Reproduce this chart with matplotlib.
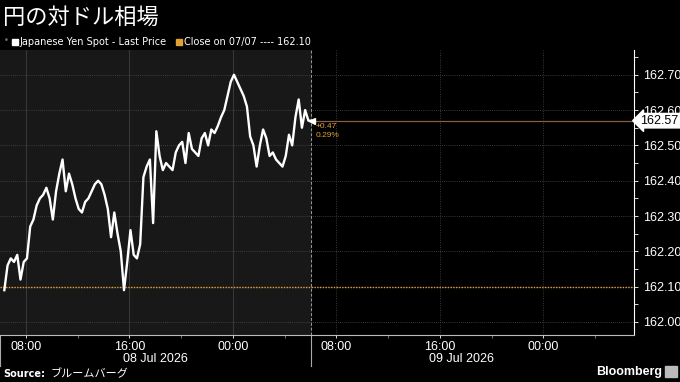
import pandas as pd
import matplotlib
matplotlib.use("Agg")
import matplotlib.pyplot as plt
import matplotlib.dates as mdates
import matplotlib.transforms as mtransforms
from matplotlib.patches import Rectangle

# chart texts and reference values
title = "円の対ドル相場"
series_name = "Japanese Yen Spot - Last Price"
close_label = "Close on 07/07 ---- 162.10"
prev_close = 162.10
last_price = 162.57
change_txt = "+0.47"
change_pct = "0.29%"
y_ticks = [162.00, 162.10, 162.20, 162.30, 162.40, 162.50, 162.60, 162.70]
day_labels = ["08 Jul 2026", "09 Jul 2026"]

# yen spot, 15 minute steps
price = [162.09, 162.16, 162.18, 162.17, 162.19, 162.12, 162.17, 162.18, 162.27, 162.29,
         162.33, 162.35, 162.36, 162.38, 162.35, 162.29, 162.37, 162.42, 162.46, 162.37,
         162.42, 162.39, 162.35, 162.32, 162.31, 162.34, 162.35, 162.37, 162.39, 162.40,
         162.39, 162.36, 162.32, 162.24, 162.31, 162.25, 162.20, 162.09, 162.17, 162.26,
         162.19, 162.18, 162.22, 162.41, 162.44, 162.46, 162.28, 162.54, 162.47, 162.43,
         162.45, 162.44, 162.43, 162.48, 162.50, 162.51, 162.45, 162.535, 162.49, 162.48,
         162.47, 162.52, 162.535, 162.50, 162.545, 162.535, 162.555, 162.58, 162.60, 162.64,
         162.68, 162.70, 162.68, 162.66, 162.64, 162.61, 162.525, 162.50, 162.44, 162.50,
         162.545, 162.52, 162.47, 162.48, 162.46, 162.45, 162.44, 162.47, 162.53, 162.50,
         162.58, 162.63, 162.55, 162.60, 162.57, 162.57]
times = pd.date_range("2026-07-08 06:20", periods=len(price), freq="15min")

x_start = pd.Timestamp("2026-07-08 06:00")
session_end = pd.Timestamp("2026-07-09 06:00")
x_end = pd.Timestamp("2026-07-10 07:00")
day_centers = [pd.Timestamp("2026-07-08 18:00"), pd.Timestamp("2026-07-09 17:40")]

orange = "#e3a033"
fig = plt.figure(figsize=(6.8, 3.82), dpi=100, facecolor="black")
ax = fig.add_axes([0.0, 0.123, 0.9324, 0.746])
ax.set_facecolor("black")

ax.axvspan(x_start, session_end, color="#181818", zorder=0)
for y in y_ticks:
    ax.axhline(y, color="#4a4a4a", lw=0.6, ls=(0, (1, 1.5)), zorder=1)
for t in pd.date_range("2026-07-08 08:00", x_end, freq="8h"):
    ax.axvline(t, color="#3a3a3a", lw=0.7, zorder=1,
               ls="-" if t < session_end else (0, (1, 1.5)))
ax.axvline(session_end, color="#9a9a9a", lw=0.7, ls=(0, (3, 2)), zorder=2)

ax.axhline(prev_close, color=orange, lw=1.0, ls=(0, (1, 1)), zorder=3)
ax.plot([times[-1], x_end], [last_price, last_price], color="#8a5f45", lw=0.9, zorder=3)
ax.plot(times, price, color="white", lw=1.7, zorder=4)
ax.plot(times[-1], price[-1], marker="<", color="white", ms=4, zorder=5)

ax.annotate(change_txt, (times[-1], last_price), xytext=(3, -4), textcoords="offset points",
            color=orange, fontsize=6, va="center", fontfamily="Liberation Sans")
ax.annotate(change_pct, (times[-1], last_price), xytext=(3, -10.5), textcoords="offset points",
            color=orange, fontsize=6, va="center", fontfamily="Liberation Sans")

ax.set_xlim(x_start, x_end)
ax.set_ylim(161.963, 162.770)
ax.yaxis.tick_right()
ax.set_yticks(y_ticks)
ax.set_yticks([v + 0.05 for v in y_ticks], minor=True)
ax.yaxis.set_major_formatter(plt.FuncFormatter(lambda v, p: f"{v:.2f}"))
ax.xaxis.set_major_locator(mdates.HourLocator(byhour=[0, 8, 16]))
ax.xaxis.set_minor_locator(mdates.HourLocator(byhour=[4, 12, 20]))
ax.xaxis.set_major_formatter(mdates.DateFormatter("%H:%M"))
ax.tick_params(axis="both", which="both", colors="white", labelsize=9, length=3, width=0.6)
ax.tick_params(axis="x", which="major", length=2, pad=2)
ax.tick_params(axis="x", which="minor", length=2, color="#888888")
for lab in ax.get_xticklabels() + ax.get_yticklabels():
    lab.set_fontfamily("Liberation Sans")
for s in ["top", "left"]:
    ax.spines[s].set_visible(False)
ax.spines["right"].set_color("white")
ax.spines["bottom"].set_color("#bbbbbb")
ax.spines["right"].set_linewidth(0.8)
ax.spines["bottom"].set_linewidth(0.8)

# last price tag on the axis
ax.annotate(f"{last_price:.2f}", (1.0, last_price), xycoords=("axes fraction", "data"),
            xytext=(4.5, 0), textcoords="offset points", va="center", ha="left",
            fontsize=9, color="black", fontfamily="Liberation Sans", zorder=6,
            bbox=dict(boxstyle="larrow,pad=0.1", fc="white", ec="white"))

# day labels and separators under the time axis
trans = mtransforms.blended_transform_factory(ax.transData, ax.transAxes)
for t, lab in zip(day_centers, day_labels):
    ax.text(t, -0.085, lab, transform=trans, ha="center", va="center", color="white",
            fontsize=9, fontfamily="Liberation Sans")
for t in [x_start, session_end]:
    ax.plot([t, t], [0, -0.11], transform=trans, color="#aaaaaa", lw=0.8, clip_on=False)

# title, legend, footer
fig.text(0.005, 0.955, title, color="white", fontsize=16, va="center", ha="left",
         fontfamily=["Noto Sans CJK JP", "DejaVu Sans"])
fig.text(0.005, 0.893, "\u2022", color="#777777", fontsize=6, va="center")
fig.patches.append(Rectangle((0.017, 0.882), 0.009, 0.016, transform=fig.transFigure,
                             color="white"))
fig.text(0.029, 0.89, series_name, color="white", fontsize=7, va="center",
         fontfamily="DejaVu Sans")
fig.patches.append(Rectangle((0.259, 0.882), 0.009, 0.016, transform=fig.transFigure,
                             color=orange))
fig.text(0.271, 0.89, close_label, color="white", fontsize=7, va="center",
         fontfamily="DejaVu Sans")
fig.text(0.005, 0.022, "Source:", color="white", fontsize=7, fontweight="bold",
         va="center", fontfamily="DejaVu Sans")
fig.text(0.075, 0.022, "ブルームバーグ", color="white", fontsize=8, va="center",
         fontfamily=["Noto Sans CJK JP", "DejaVu Sans"])
fig.text(0.973, 0.026, "Bloomberg", color="white", fontsize=9, fontweight="bold",
         va="center", ha="right", fontfamily="Liberation Sans")
fig.patches.append(Rectangle((0.978, 0.012), 0.017, 0.03, transform=fig.transFigure,
                             color="#bbbbbb"))

fig.savefig("out.png", dpi=100, facecolor="black")
